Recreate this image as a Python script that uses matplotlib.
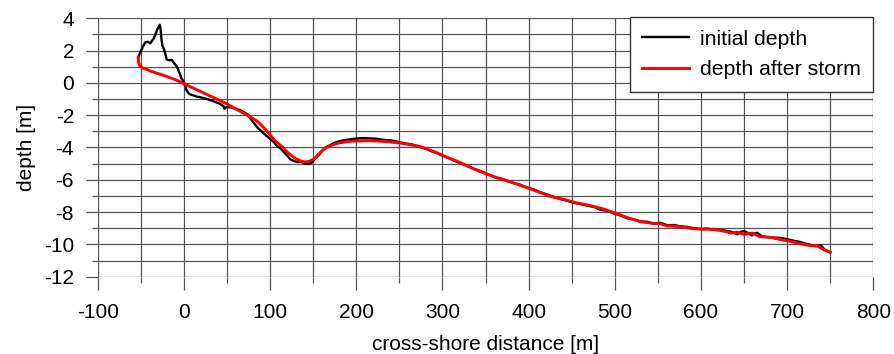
import matplotlib.pyplot as plt
from matplotlib.ticker import MultipleLocator

plt.rcParams['font.family'] = ['Liberation Sans', 'DejaVu Sans']
plt.rcParams['axes.unicode_minus'] = False

# initial profile (distance m, depth m)
init_profile = [
    (-53, 1.55), (-51, 1.85), (-48, 2.2), (-45, 2.5), (-42, 2.55), (-39, 2.45), (-37, 2.6),
    (-35, 2.75), (-33, 3.0), (-31, 3.3), (-29, 3.5), (-28, 3.6), (-27, 3.3), (-26, 2.7),
    (-25, 2.3), (-24, 2.2), (-22, 1.9), (-20, 1.45), (-17, 1.4), (-14, 1.42), (-11, 1.2),
    (-8, 1.0), (-5, 0.6), (-3, 0.3), (0, 0.05), (3, -0.45), (6, -0.68), (10, -0.76),
    (15, -0.85), (20, -0.9), (27, -1.0), (35, -1.15), (42, -1.3), (46, -1.45), (47, -1.6),
    (50, -1.48), (58, -1.57), (66, -1.7), (74, -1.95), (80, -2.4), (86, -2.8), (92, -3.1),
    (97, -3.33), (103, -3.6), (108, -3.9), (112, -4.05), (118, -4.4), (124, -4.75),
    (128, -4.85), (132, -4.9), (136, -4.88), (140, -5.0), (144, -5.02), (148, -4.95),
    (151, -4.77), (155, -4.55), (159, -4.3), (163, -4.05), (166, -3.95), (170, -3.85),
    (174, -3.72), (180, -3.62), (186, -3.55), (192, -3.5), (198, -3.46), (204, -3.43),
    (210, -3.42), (216, -3.44), (222, -3.45), (228, -3.5), (234, -3.54), (240, -3.56),
    (246, -3.62), (252, -3.7), (258, -3.76), (264, -3.8), (270, -3.9), (276, -4.0),
    (282, -4.1), (288, -4.25), (294, -4.35), (300, -4.5), (306, -4.62), (313, -4.8),
    (320, -4.95), (328, -5.12), (336, -5.3), (344, -5.45), (350, -5.6), (356, -5.72),
    (362, -5.88), (368, -5.92), (375, -6.05), (383, -6.22), (390, -6.3), (398, -6.48),
    (406, -6.6), (414, -6.78), (422, -6.92), (430, -7.08), (437, -7.2), (445, -7.3),
    (452, -7.42), (460, -7.5), (468, -7.6), (476, -7.68), (483, -7.85), (491, -7.92),
    (499, -8.08), (507, -8.22), (514, -8.38), (522, -8.45), (530, -8.58), (538, -8.6),
    (545, -8.72), (553, -8.66), (561, -8.82), (569, -8.8), (576, -8.88), (584, -8.92),
    (592, -9.0), (600, -9.05), (607, -9.02), (615, -9.1), (622, -9.1), (628, -9.15),
    (634, -9.2), (638, -9.28), (642, -9.38), (646, -9.22), (650, -9.18), (655, -9.3),
    (659, -9.45), (662, -9.34), (665, -9.28), (671, -9.5), (677, -9.55), (684, -9.58),
    (692, -9.6), (700, -9.68), (708, -9.78), (715, -9.85), (721, -9.95), (727, -10.02),
    (731, -10.1), (735, -10.12), (739, -10.05), (743, -10.3), (747, -10.42), (750, -10.5),
]

# profile after the storm
storm_profile = [
    (-53, 1.6), (-52.5, 1.25), (-51, 1.05), (-48, 0.92), (-44, 0.85), (-38, 0.72),
    (-30, 0.58), (-20, 0.4), (-10, 0.2), (0, -0.05), (10, -0.3), (20, -0.55), (30, -0.8),
    (40, -1.05), (50, -1.3), (58, -1.55), (66, -1.78), (74, -2.0), (80, -2.2), (86, -2.42),
    (90, -2.62), (94, -2.85), (98, -3.1), (102, -3.35), (106, -3.6), (110, -3.78),
    (115, -4.0), (120, -4.3), (125, -4.5), (130, -4.7), (135, -4.82), (140, -4.9),
    (145, -4.86), (150, -4.75), (155, -4.5), (160, -4.22), (166, -3.98), (172, -3.85),
    (180, -3.72), (190, -3.63), (200, -3.6), (212, -3.58), (225, -3.6), (238, -3.65),
    (250, -3.72), (262, -3.82), (275, -3.95), (290, -4.25), (305, -4.6), (320, -4.92),
    (335, -5.3), (350, -5.62), (365, -5.9), (380, -6.15), (395, -6.43), (410, -6.72),
    (425, -7.02), (440, -7.2), (455, -7.42), (470, -7.58), (485, -7.78), (500, -8.05),
    (515, -8.35), (530, -8.6), (545, -8.7), (553, -8.72), (560, -8.85), (575, -8.9),
    (590, -9.02), (600, -9.06), (612, -9.06), (625, -9.16), (635, -9.3), (642, -9.25),
    (650, -9.38), (660, -9.3), (668, -9.52), (680, -9.56), (692, -9.7), (704, -9.82),
    (716, -9.96), (727, -10.08), (735, -10.08), (742, -10.32), (750, -10.48),
]

x_init, y_init = zip(*init_profile)
x_storm, y_storm = zip(*storm_profile)

fig = plt.figure(figsize=(8.94, 3.54), dpi=100)
ax = fig.add_axes([0.1093, 0.2184, 0.8676, 0.7299])

ax.plot(x_init, y_init, color='black', lw=1.7, label='initial depth')
ax.plot(x_storm, y_storm, color='#ff0000', lw=2.1, label='depth after storm')

ax.set_xlim(-100, 800)
ax.set_ylim(-12, 4)
ax.xaxis.set_major_locator(MultipleLocator(100))
ax.xaxis.set_minor_locator(MultipleLocator(50))
ax.yaxis.set_major_locator(MultipleLocator(2))
ax.yaxis.set_minor_locator(MultipleLocator(1))
ax.grid(True, which='both', color='#555555', lw=0.9)
ax.set_axisbelow(True)
for s in ax.spines.values():
    s.set_visible(False)

ax.tick_params(which='major', length=9, width=0.9, color='#555555', labelsize=15)
ax.tick_params(which='minor', length=4.5, width=0.9, color='#555555')
ax.tick_params(axis='x', which='major', pad=10)
ax.tick_params(axis='y', which='major', pad=8)

ax.set_xlabel('cross-shore distance [m]', fontsize=15, labelpad=9)
ax.set_ylabel('depth [m]', fontsize=15, labelpad=6)

leg = ax.legend(loc='upper right', bbox_to_anchor=(1.0, 1.005), borderaxespad=0,
                fontsize=15.3, fancybox=False, framealpha=1, edgecolor='#333333',
                handlelength=2.2, handletextpad=0.5, borderpad=0.6, labelspacing=0.55)
leg.get_frame().set_linewidth(1.0)

fig.savefig('out.png', dpi=100)
